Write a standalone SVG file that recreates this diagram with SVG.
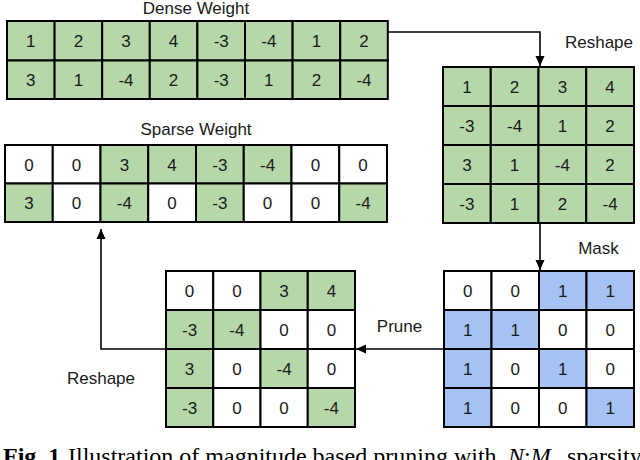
<svg xmlns="http://www.w3.org/2000/svg" width="640" height="460" viewBox="0 0 640 460">
<defs>
<style>
rect{stroke:#000;stroke-width:2}
.g{fill:#b6d7a8}.w{fill:#fff}.b{fill:#a4c2f4}
text{font-family:"Liberation Sans",Arial,sans-serif;font-size:17px;fill:#1a1a1a}
.n{text-anchor:middle}
.lbl{font-size:17px}
.con{fill:none;stroke:#000;stroke-width:1.6}
.cap{font-family:"Liberation Serif","Times New Roman",serif;font-size:24px;fill:#000}
</style>
<marker id="ah" markerUnits="userSpaceOnUse" markerWidth="10" markerHeight="10" refX="10" refY="4.5" orient="auto" viewBox="0 0 10 9">
<path d="M0,0 L10,4.5 L0,9 z" fill="#000"/>
</marker>
</defs>
<rect width="640" height="460" fill="#fff" style="stroke:none"/>

<g id="dense-weight">
<text class="n lbl" x="196" y="13.5">Dense Weight</text>
<rect class="g" x="7" y="21" width="47.6" height="39.5"/><rect class="g" x="54.6" y="21" width="47.6" height="39.5"/><rect class="g" x="102.2" y="21" width="47.6" height="39.5"/><rect class="g" x="149.8" y="21" width="47.6" height="39.5"/><rect class="g" x="197.4" y="21" width="47.6" height="39.5"/><rect class="g" x="245" y="21" width="47.6" height="39.5"/><rect class="g" x="292.6" y="21" width="47.6" height="39.5"/><rect class="g" x="340.2" y="21" width="47.6" height="39.5"/>
<rect class="g" x="7" y="60.5" width="47.6" height="38.5"/><rect class="g" x="54.6" y="60.5" width="47.6" height="38.5"/><rect class="g" x="102.2" y="60.5" width="47.6" height="38.5"/><rect class="g" x="149.8" y="60.5" width="47.6" height="38.5"/><rect class="g" x="197.4" y="60.5" width="47.6" height="38.5"/><rect class="g" x="245" y="60.5" width="47.6" height="38.5"/><rect class="g" x="292.6" y="60.5" width="47.6" height="38.5"/><rect class="g" x="340.2" y="60.5" width="47.6" height="38.5"/>
<text class="n" x="30.8" y="47">1</text><text class="n" x="78.4" y="47">2</text><text class="n" x="126" y="47">3</text><text class="n" x="173.6" y="47">4</text><text class="n" x="221.2" y="47">-3</text><text class="n" x="268.8" y="47">-4</text><text class="n" x="316.4" y="47">1</text><text class="n" x="364" y="47">2</text>
<text class="n" x="30.8" y="86">3</text><text class="n" x="78.4" y="86">1</text><text class="n" x="126" y="86">-4</text><text class="n" x="173.6" y="86">2</text><text class="n" x="221.2" y="86">-3</text><text class="n" x="268.8" y="86">1</text><text class="n" x="316.4" y="86">2</text><text class="n" x="364" y="86">-4</text>
</g>

<g id="sparse-weight">
<text class="n lbl" x="196" y="134.5">Sparse Weight</text>
<rect class="w" x="5" y="145" width="47.75" height="38.5"/><rect class="w" x="52.75" y="145" width="47.75" height="38.5"/><rect class="g" x="100.5" y="145" width="47.75" height="38.5"/><rect class="g" x="148.25" y="145" width="47.75" height="38.5"/><rect class="g" x="196" y="145" width="47.75" height="38.5"/><rect class="g" x="243.75" y="145" width="47.75" height="38.5"/><rect class="w" x="291.5" y="145" width="47.75" height="38.5"/><rect class="w" x="339.25" y="145" width="47.75" height="38.5"/>
<rect class="g" x="5" y="183.5" width="47.75" height="38.5"/><rect class="w" x="52.75" y="183.5" width="47.75" height="38.5"/><rect class="g" x="100.5" y="183.5" width="47.75" height="38.5"/><rect class="w" x="148.25" y="183.5" width="47.75" height="38.5"/><rect class="g" x="196" y="183.5" width="47.75" height="38.5"/><rect class="w" x="243.75" y="183.5" width="47.75" height="38.5"/><rect class="w" x="291.5" y="183.5" width="47.75" height="38.5"/><rect class="g" x="339.25" y="183.5" width="47.75" height="38.5"/>
<text class="n" x="28.9" y="170.5">0</text><text class="n" x="76.6" y="170.5">0</text><text class="n" x="124.4" y="170.5">3</text><text class="n" x="172.1" y="170.5">4</text><text class="n" x="219.9" y="170.5">-3</text><text class="n" x="267.6" y="170.5">-4</text><text class="n" x="315.4" y="170.5">0</text><text class="n" x="363.1" y="170.5">0</text>
<text class="n" x="28.9" y="209">3</text><text class="n" x="76.6" y="209">0</text><text class="n" x="124.4" y="209">-4</text><text class="n" x="172.1" y="209">0</text><text class="n" x="219.9" y="209">-3</text><text class="n" x="267.6" y="209">0</text><text class="n" x="315.4" y="209">0</text><text class="n" x="363.1" y="209">-4</text>
</g>

<g id="reshaped-weight">
<rect class="g" x="443" y="67" width="47.75" height="39"/><rect class="g" x="490.75" y="67" width="47.75" height="39"/><rect class="g" x="538.5" y="67" width="47.75" height="39"/><rect class="g" x="586.25" y="67" width="47.75" height="39"/>
<rect class="g" x="443" y="106" width="47.75" height="39"/><rect class="g" x="490.75" y="106" width="47.75" height="39"/><rect class="g" x="538.5" y="106" width="47.75" height="39"/><rect class="g" x="586.25" y="106" width="47.75" height="39"/>
<rect class="g" x="443" y="145" width="47.75" height="39"/><rect class="g" x="490.75" y="145" width="47.75" height="39"/><rect class="g" x="538.5" y="145" width="47.75" height="39"/><rect class="g" x="586.25" y="145" width="47.75" height="39"/>
<rect class="g" x="443" y="184" width="47.75" height="39"/><rect class="g" x="490.75" y="184" width="47.75" height="39"/><rect class="g" x="538.5" y="184" width="47.75" height="39"/><rect class="g" x="586.25" y="184" width="47.75" height="39"/>
<text class="n" x="466.9" y="92.5">1</text><text class="n" x="514.6" y="92.5">2</text><text class="n" x="562.4" y="92.5">3</text><text class="n" x="610.1" y="92.5">4</text>
<text class="n" x="466.9" y="131.5">-3</text><text class="n" x="514.6" y="131.5">-4</text><text class="n" x="562.4" y="131.5">1</text><text class="n" x="610.1" y="131.5">2</text>
<text class="n" x="466.9" y="170.5">3</text><text class="n" x="514.6" y="170.5">1</text><text class="n" x="562.4" y="170.5">-4</text><text class="n" x="610.1" y="170.5">2</text>
<text class="n" x="466.9" y="209.5">-3</text><text class="n" x="514.6" y="209.5">1</text><text class="n" x="562.4" y="209.5">2</text><text class="n" x="610.1" y="209.5">-4</text>
</g>

<g id="mask">
<rect class="w" x="444" y="271" width="47.5" height="39"/><rect class="w" x="491.5" y="271" width="47.5" height="39"/><rect class="b" x="539" y="271" width="47.5" height="39"/><rect class="b" x="586.5" y="271" width="47.5" height="39"/>
<rect class="b" x="444" y="310" width="47.5" height="39"/><rect class="b" x="491.5" y="310" width="47.5" height="39"/><rect class="w" x="539" y="310" width="47.5" height="39"/><rect class="w" x="586.5" y="310" width="47.5" height="39"/>
<rect class="b" x="444" y="349" width="47.5" height="39"/><rect class="w" x="491.5" y="349" width="47.5" height="39"/><rect class="b" x="539" y="349" width="47.5" height="39"/><rect class="w" x="586.5" y="349" width="47.5" height="39"/>
<rect class="b" x="444" y="388" width="47.5" height="39"/><rect class="w" x="491.5" y="388" width="47.5" height="39"/><rect class="w" x="539" y="388" width="47.5" height="39"/><rect class="b" x="586.5" y="388" width="47.5" height="39"/>
<text class="n" x="467.8" y="296.5">0</text><text class="n" x="515.3" y="296.5">0</text><text class="n" x="562.8" y="296.5">1</text><text class="n" x="610.3" y="296.5">1</text>
<text class="n" x="467.8" y="335.5">1</text><text class="n" x="515.3" y="335.5">1</text><text class="n" x="562.8" y="335.5">0</text><text class="n" x="610.3" y="335.5">0</text>
<text class="n" x="467.8" y="374.5">1</text><text class="n" x="515.3" y="374.5">0</text><text class="n" x="562.8" y="374.5">1</text><text class="n" x="610.3" y="374.5">0</text>
<text class="n" x="467.8" y="413.5">1</text><text class="n" x="515.3" y="413.5">0</text><text class="n" x="562.8" y="413.5">0</text><text class="n" x="610.3" y="413.5">1</text>
</g>

<g id="pruned-weight">
<rect class="w" x="166" y="271" width="47.25" height="39"/><rect class="w" x="213.25" y="271" width="47.25" height="39"/><rect class="g" x="260.5" y="271" width="47.25" height="39"/><rect class="g" x="307.75" y="271" width="47.25" height="39"/>
<rect class="g" x="166" y="310" width="47.25" height="39"/><rect class="g" x="213.25" y="310" width="47.25" height="39"/><rect class="w" x="260.5" y="310" width="47.25" height="39"/><rect class="w" x="307.75" y="310" width="47.25" height="39"/>
<rect class="g" x="166" y="349" width="47.25" height="39"/><rect class="w" x="213.25" y="349" width="47.25" height="39"/><rect class="g" x="260.5" y="349" width="47.25" height="39"/><rect class="w" x="307.75" y="349" width="47.25" height="39"/>
<rect class="g" x="166" y="388" width="47.25" height="39"/><rect class="w" x="213.25" y="388" width="47.25" height="39"/><rect class="w" x="260.5" y="388" width="47.25" height="39"/><rect class="g" x="307.75" y="388" width="47.25" height="39"/>
<text class="n" x="189.6" y="296.5">0</text><text class="n" x="236.9" y="296.5">0</text><text class="n" x="284.1" y="296.5">3</text><text class="n" x="331.4" y="296.5">4</text>
<text class="n" x="189.6" y="335.5">-3</text><text class="n" x="236.9" y="335.5">-4</text><text class="n" x="284.1" y="335.5">0</text><text class="n" x="331.4" y="335.5">0</text>
<text class="n" x="189.6" y="374.5">3</text><text class="n" x="236.9" y="374.5">0</text><text class="n" x="284.1" y="374.5">-4</text><text class="n" x="331.4" y="374.5">0</text>
<text class="n" x="189.6" y="413.5">-3</text><text class="n" x="236.9" y="413.5">0</text><text class="n" x="284.1" y="413.5">0</text><text class="n" x="331.4" y="413.5">-4</text>
</g>

<g id="connectors">
<path class="con" d="M388,32 H540 V66" marker-end="url(#ah)"/>
<path class="con" d="M540,223 V270" marker-end="url(#ah)"/>
<path class="con" d="M444,349 H356" marker-end="url(#ah)"/>
<path class="con" d="M166,349 H101 V229" marker-end="url(#ah)"/>
<text class="n lbl" x="599" y="47.5">Reshape</text>
<text class="n lbl" x="598.5" y="253.5">Mask</text>
<text class="n lbl" x="399.5" y="331.5">Prune</text>
<text class="n lbl" x="101" y="384">Reshape</text>
</g>

<g id="caption">
<text class="cap" x="3" y="464"><tspan font-weight="bold">Fig. 1.</tspan><tspan x="68">Illustration of magnitude based pruning with </tspan><tspan x="508" font-style="italic">N</tspan><tspan>:</tspan><tspan font-style="italic">M</tspan><tspan x="567">sparsity</tspan></text>
</g>
</svg>
